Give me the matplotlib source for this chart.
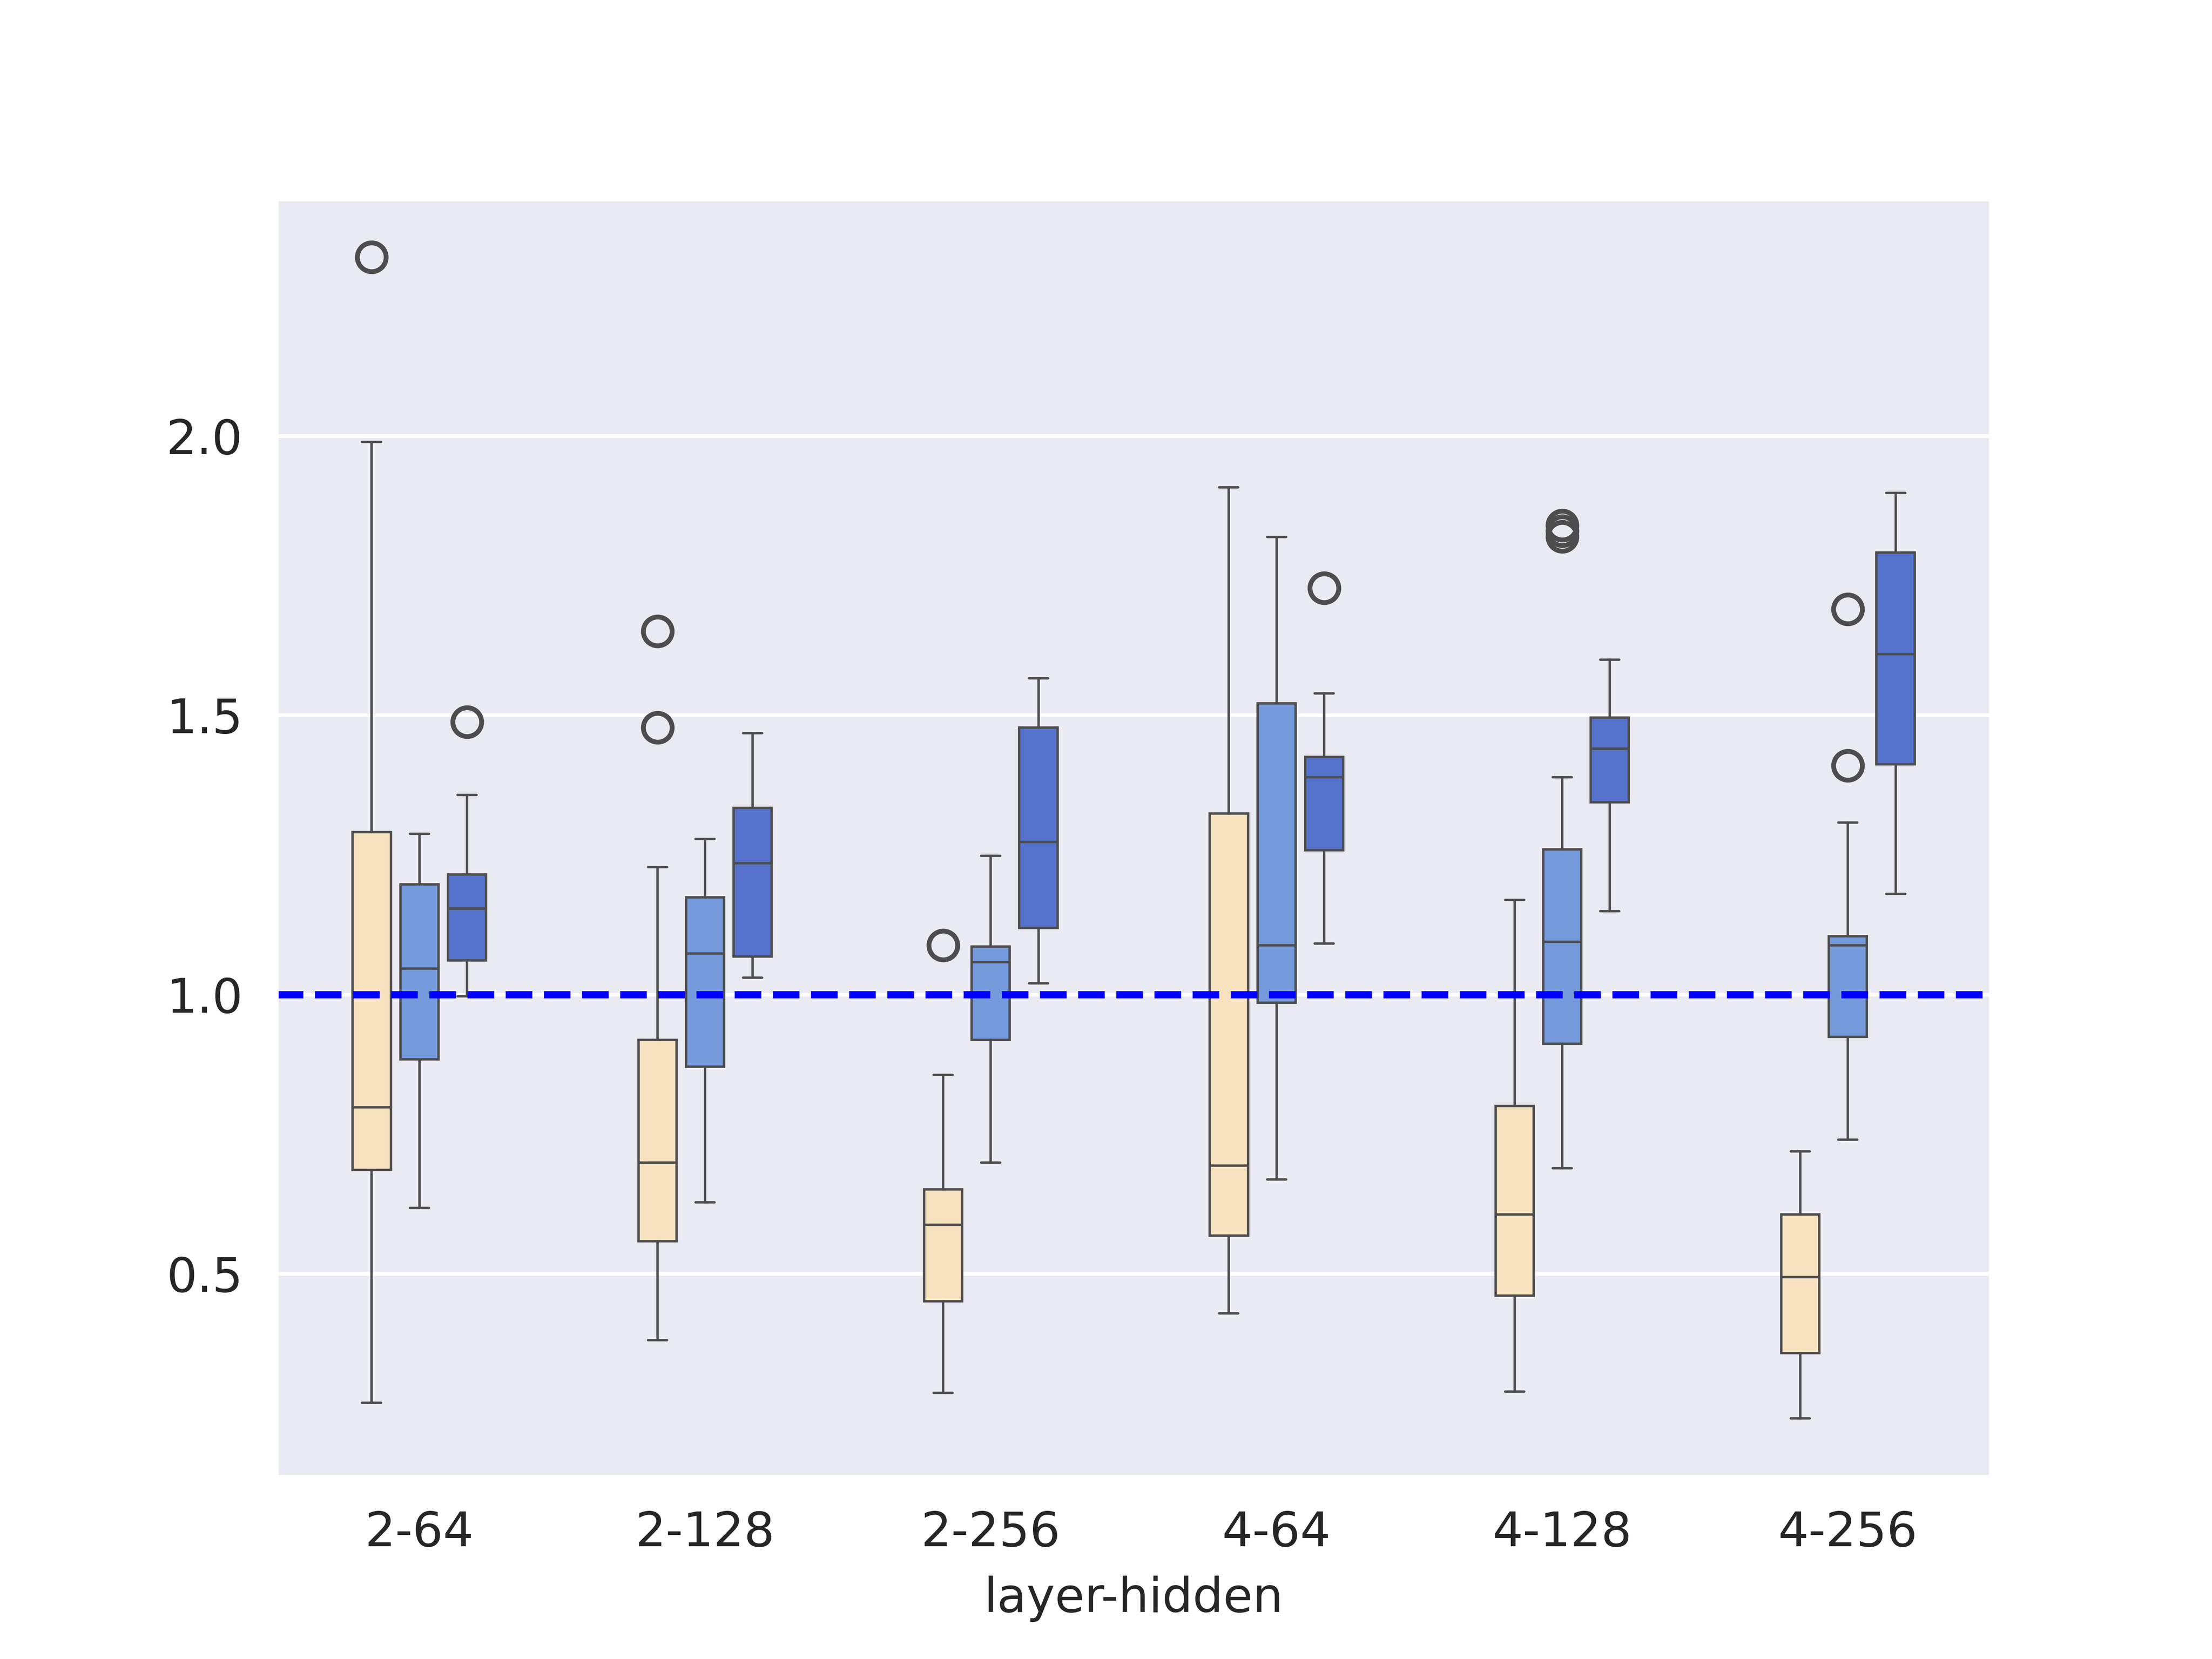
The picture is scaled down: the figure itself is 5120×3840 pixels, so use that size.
import matplotlib
matplotlib.use("Agg")
import matplotlib.pyplot as plt
import seaborn as sns

# categories on the x axis
groups = ['2-64', '2-128', '2-256', '4-64', '4-128', '4-256']

# box statistics, one list per hue level
# (first level: light beige, second: light blue, third: blue)
q1_a = [0.686, 0.558, 0.451, 0.568, 0.461, 0.358]
med_a = [0.798, 0.699, 0.588, 0.694, 0.606, 0.494]
q3_a = [1.291, 0.919, 0.651, 1.324, 0.800, 0.606]
lo_a = [0.269, 0.381, 0.287, 0.429, 0.289, 0.241]
hi_a = [1.989, 1.228, 0.856, 1.908, 1.169, 0.719]
fl_a = [[2.32], [1.650, 1.478], [1.088], [], [], []]

q1_b = [0.884, 0.871, 0.919, 0.985, 0.912, 0.924]
med_b = [1.046, 1.073, 1.058, 1.088, 1.094, 1.088]
q3_b = [1.197, 1.174, 1.086, 1.521, 1.260, 1.104]
lo_b = [0.618, 0.628, 0.699, 0.669, 0.689, 0.740]
hi_b = [1.288, 1.278, 1.248, 1.819, 1.389, 1.308]
fl_b = [[], [], [], [], [1.820, 1.830, 1.840], [1.690, 1.410]]

q1_c = [1.061, 1.068, 1.119, 1.258, 1.344, 1.412]
med_c = [1.154, 1.235, 1.273, 1.389, 1.440, 1.609]
q3_c = [1.215, 1.334, 1.478, 1.425, 1.496, 1.791]
lo_c = [0.997, 1.030, 1.020, 1.091, 1.149, 1.180]
hi_c = [1.357, 1.468, 1.566, 1.539, 1.599, 1.898]
fl_c = [[1.488], [], [], [1.728], [], []]

levels = [
    (q1_a, med_a, q3_a, lo_a, hi_a, fl_a),
    (q1_b, med_b, q3_b, lo_b, hi_b, fl_b),
    (q1_c, med_c, q3_c, lo_c, hi_c, fl_c),
]
palette = ['#F6E2BE', '#759ADC', '#5573CD']
baseline = 1.0

sns.set_style('darkgrid')
fig, ax = plt.subplots(figsize=(6.4, 4.8))

edge = '#4D4D4D'
lw = 0.5
slot = 0.5 / len(levels)
for k, (q1, med, q3, lo, hi, fl) in enumerate(levels):
    stats = []
    for i in range(len(groups)):
        stats.append({'q1': q1[i], 'med': med[i], 'q3': q3[i],
                      'whislo': lo[i], 'whishi': hi[i], 'fliers': fl[i]})
    pos = [i + (k - 1) * slot for i in range(len(groups))]
    ax.bxp(stats, positions=pos, widths=slot * 0.8, capwidths=slot * 0.4,
           patch_artist=True, manage_ticks=False,
           boxprops=dict(facecolor=palette[k], edgecolor=edge, linewidth=lw),
           medianprops=dict(color=edge, linewidth=lw),
           whiskerprops=dict(color=edge, linewidth=lw),
           capprops=dict(color=edge, linewidth=lw, solid_capstyle='round'),
           flierprops=dict(marker='o', markerfacecolor='none',
                           markeredgecolor=edge, markersize=6,
                           markeredgewidth=1.0))

ax.axhline(baseline, color='blue', linestyle='--', linewidth=1.5)

ax.set_xticks(range(len(groups)))
ax.set_xticklabels(groups)
ax.set_xlim(-0.5, len(groups) - 0.5)
ax.xaxis.grid(False)
ax.set_xlabel('layer-hidden')

fig.savefig('out.png', dpi=800)
